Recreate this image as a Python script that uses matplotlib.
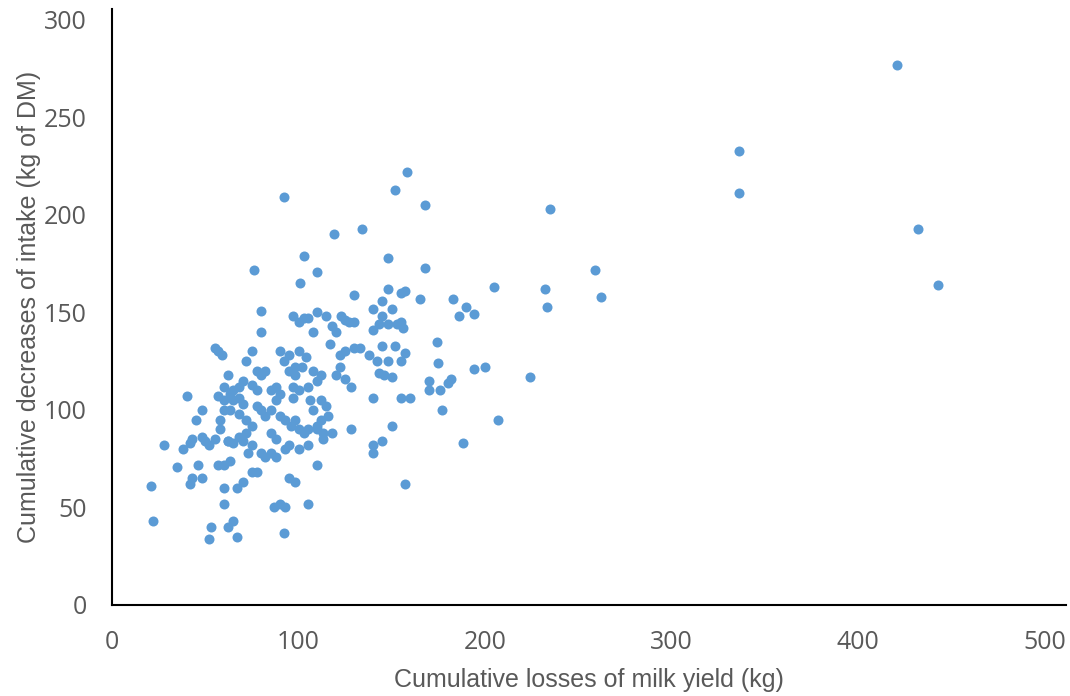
import matplotlib
matplotlib.use("Agg")
import matplotlib.pyplot as plt

# cumulative losses of milk yield (kg) / cumulative decreases of intake (kg DM)
milk_loss = [
    421, 336, 336, 432, 443, 235, 259, 262, 232, 233, 205, 224, 207, 188, 200,
    194, 190, 186, 183, 194, 174, 175, 180, 182, 176, 170, 170, 177,
    158, 152, 168, 168, 157, 155, 165, 148, 134, 119, 103, 110, 92, 76, 80,
    101, 105, 97, 80, 130, 140, 145, 148, 145, 150, 155, 153, 148, 143, 140,
    156, 152, 145, 157, 138, 142, 148, 155, 143, 146, 150, 140, 155, 160,
    150, 145, 140, 140, 157, 128, 125, 123, 127, 130, 120, 118, 115, 117,
    125, 122, 130, 133, 122, 120, 125, 128, 110, 108, 103, 100, 95, 100, 104,
    108, 112, 110, 105, 100, 97, 95, 92, 90, 98, 102, 98, 106, 112, 115, 108,
    112, 110, 116, 113, 118, 105, 103, 100, 98, 93, 90, 95, 100, 105, 110,
    95, 98, 93, 88, 85, 85, 82, 88, 90, 87, 93, 92, 105, 80, 78, 82, 85, 88,
    85, 88, 90, 78, 75, 80, 82, 78, 72, 75, 70, 68, 65, 62, 60, 57, 63, 68,
    72, 75, 72, 68, 65, 62, 70, 75, 73, 80, 78, 75, 70, 67, 60, 63, 57, 60,
    55, 52, 50, 48, 58, 58, 60, 55, 57, 59, 60, 63, 65, 68, 70, 48, 40, 45,
    43, 42, 38, 35, 46, 43, 42, 48, 28, 21, 22, 53, 52, 62, 65, 67, 60, 62,
    97, 110, 113, 96,
]
intake_decrease = [
    277, 233, 211, 193, 164, 203, 172, 158, 162, 153, 163, 117, 95, 83, 122,
    149, 153, 148, 157, 121, 135, 124, 114, 116, 110, 110, 115, 100,
    222, 213, 205, 173, 161, 160, 157, 178, 193, 190, 179, 171, 209, 172, 151,
    165, 147, 148, 140, 159, 152, 156, 162, 148, 152, 145, 144, 144, 144, 141,
    142, 133, 133, 129, 128, 125, 125, 125, 119, 118, 117, 106, 106, 106,
    92, 84, 82, 78, 62, 90, 146, 148, 145, 145, 140, 143, 148, 134,
    130, 128, 132, 132, 122, 118, 116, 112, 150, 140, 147, 145, 128, 130, 127,
    120, 118, 115, 112, 110, 112, 120, 125, 130, 122, 122, 118, 105, 105, 102, 100,
    95, 92, 97, 88, 88, 90, 88, 90, 95, 95, 97, 82, 80, 82, 72,
    65, 63, 80, 85, 88, 78, 76, 76, 52, 50, 50, 37, 52, 100, 102, 97, 100, 105,
    110, 112, 108, 110, 113, 118, 120, 120, 125, 130, 115, 112, 110, 118, 105, 107, 100, 98,
    95, 92, 88, 86, 83, 84, 84, 82, 78, 78, 68, 68, 63, 60, 72, 74, 72, 60,
    85, 82, 84, 86, 90, 95, 112, 132, 130, 128, 100, 108, 105, 106, 103, 100, 107, 95,
    85, 83, 80, 71, 72, 65, 62, 65, 82, 61, 43, 40, 34, 40, 43, 35, 52, 84,
    106, 90, 85, 92,
]

x_ticks = [0, 100, 200, 300, 400, 500]
y_ticks = [0, 50, 100, 150, 200, 250, 300]

fig = plt.figure(figsize=(10.70, 6.96), dpi=100)
# plot area runs a little past 500 / 300, like the original
ax = fig.add_axes([112 / 1070, 1 - 605 / 696, (1066 - 112) / 1070, (605 - 9) / 696])

ax.scatter(milk_loss, intake_decrease, s=52, color="#5B9BD5", linewidths=0, zorder=3)

ax.set_xlim(0, 511.5)
ax.set_ylim(0, 305.6)
ax.set_xticks(x_ticks)
ax.set_yticks(y_ticks)

for side in ("top", "right"):
    ax.spines[side].set_visible(False)
for side in ("left", "bottom"):
    ax.spines[side].set_linewidth(1.5)
    ax.spines[side].set_color("black")

ax.tick_params(length=0, labelsize=18, labelcolor="#595959")
ax.tick_params(axis="x", pad=18)
ax.tick_params(axis="y", pad=18)
for lab in ax.get_xticklabels() + ax.get_yticklabels():
    lab.set_family("Open Sans")

ax.set_xlabel("Cumulative losses of milk yield (kg)", fontsize=18,
              family="Liberation Sans", color="#595959", labelpad=9)
ax.set_ylabel("Cumulative decreases of intake (kg of DM)", fontsize=18,
              family="Liberation Sans", color="#595959", labelpad=2)

fig.savefig("out.png", dpi=100)
